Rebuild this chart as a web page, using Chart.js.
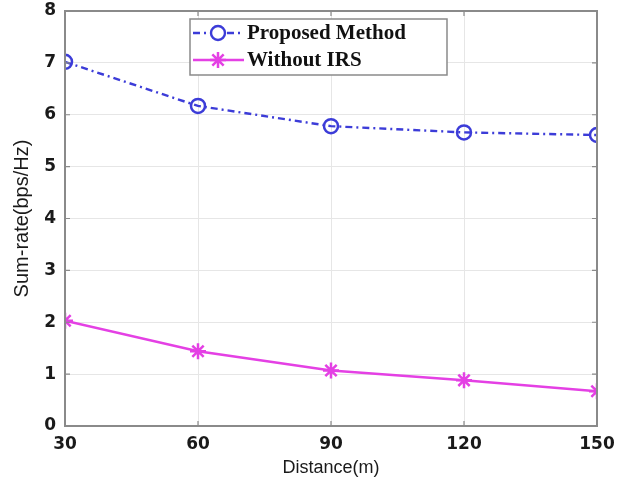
<!DOCTYPE html>
<html>
<head>
<meta charset="utf-8">
<script src="https://cdn.jsdelivr.net/npm/chart.js@4.4.1/dist/chart.umd.min.js"></script>
<style>
  html, body { margin: 0; padding: 0; background: #fff; }
  #wrap { width: 617px; height: 490px; }
</style>
</head>
<body>
<div id="wrap"><canvas id="c" width="617" height="490"></canvas></div>
<script>
// Distance (m) on the x axis
const distances = [30, 60, 90, 120, 150];
// Sum-rate (bps/Hz) for each scheme
const proposedMethod = [7.02, 6.17, 5.78, 5.66, 5.61];
const withoutIRS = [2.03, 1.44, 1.07, 0.88, 0.67];
const seriesNames = ['Proposed Method', 'Without IRS'];
const xTicks = [30, 60, 90, 120, 150];
const yTicks = [0, 1, 2, 3, 4, 5, 6, 7, 8];

const BLUE = '#3c3cd8';
const MAGENTA = '#e440e4';
const FRAME = '#8a8a8a';

// Box frame with inward tick marks on all four sides
const framePlugin = {
  id: 'frame',
  afterDatasetsDraw(chart) {
    const { ctx, chartArea: a, scales } = chart;
    ctx.save();
    ctx.strokeStyle = FRAME;
    ctx.lineWidth = 2;
    ctx.strokeRect(a.left, a.top, a.right - a.left, a.bottom - a.top);
    ctx.lineWidth = 1.2;
    const len = 5;
    xTicks.forEach(v => {
      const x = scales.x.getPixelForValue(v);
      ctx.beginPath();
      ctx.moveTo(x, a.bottom); ctx.lineTo(x, a.bottom - len);
      ctx.moveTo(x, a.top); ctx.lineTo(x, a.top + len);
      ctx.stroke();
    });
    yTicks.forEach(v => {
      const y = scales.y.getPixelForValue(v);
      ctx.beginPath();
      ctx.moveTo(a.left, y); ctx.lineTo(a.left + len, y);
      ctx.moveTo(a.right, y); ctx.lineTo(a.right - len, y);
      ctx.stroke();
    });
    ctx.restore();
  }
};

// Boxed legend placed inside the plot near the top
const legendBoxPlugin = {
  id: 'legendBox',
  afterDraw(chart) {
    const { ctx } = chart;
    const bx = 190, by = 19, bw = 257, bh = 56;
    ctx.save();
    ctx.fillStyle = '#ffffff';
    ctx.fillRect(bx, by, bw, bh);
    ctx.strokeStyle = FRAME;
    ctx.lineWidth = 1.5;
    ctx.strokeRect(bx, by, bw, bh);
    const rows = [by + 14, by + 41];
    chart.data.datasets.forEach((ds, i) => {
      const y = rows[i];
      ctx.strokeStyle = ds.borderColor;
      ctx.lineWidth = ds.borderWidth;
      ctx.setLineDash(ds.borderDash || []);
      ctx.beginPath();
      ctx.moveTo(bx + 3, y); ctx.lineTo(bx + 54, y);
      ctx.stroke();
      ctx.setLineDash([]);
      Chart.helpers.drawPoint(ctx, {
        pointStyle: ds.pointStyle,
        radius: ds.pointRadius,
        borderWidth: ds.pointBorderWidth
      }, bx + 28, y);
      ctx.fillStyle = '#111';
      ctx.font = 'bold 21px "Liberation Serif", "DejaVu Serif", serif';
      ctx.textBaseline = 'middle';
      ctx.textAlign = 'left';
      ctx.fillText(ds.label, bx + 57, y + 1);
    });
    ctx.restore();
  }
};

const tickFont = { family: '"DejaVu Sans", sans-serif', size: 17, weight: 'bold' };
const xTitleFont = { family: '"Liberation Sans", Arial, sans-serif', size: 18, weight: 'normal' };
const yTitleFont = { family: '"Liberation Sans", Arial, sans-serif', size: 20, weight: 'normal' };

new Chart(document.getElementById('c'), {
  type: 'line',
  data: {
    datasets: [
      {
        label: seriesNames[0],
        data: distances.map((d, i) => ({ x: d, y: proposedMethod[i] })),
        borderColor: BLUE,
        backgroundColor: 'rgba(0,0,0,0)',
        borderWidth: 2.4,
        borderDash: [7, 4, 2, 4],
        pointStyle: 'circle',
        pointRadius: 7,
        pointBorderWidth: 2.5,
        pointBorderColor: BLUE,
        pointBackgroundColor: 'rgba(0,0,0,0)',
        tension: 0
      },
      {
        label: seriesNames[1],
        data: distances.map((d, i) => ({ x: d, y: withoutIRS[i] })),
        borderColor: MAGENTA,
        backgroundColor: MAGENTA,
        borderWidth: 2.5,
        pointStyle: 'star',
        pointRadius: 8,
        pointBorderWidth: 2.5,
        pointBorderColor: MAGENTA,
        pointBackgroundColor: MAGENTA,
        tension: 0
      }
    ]
  },
  options: {
    responsive: false,
    animation: false,
    layout: { padding: { left: 10, right: 20, top: 11, bottom: 11 } },
    plugins: {
      legend: { display: false },
      tooltip: { enabled: false }
    },
    scales: {
      x: {
        type: 'linear',
        min: 30, max: 150,
        afterBuildTicks(s) { s.ticks = xTicks.map(v => ({ value: v })); },
        afterFit(s) { s.height = 53; s.paddingLeft = 0; s.paddingRight = 0; },
        grid: { color: '#e6e6e6', lineWidth: 1, drawTicks: false },
        border: { display: false },
        ticks: { color: '#1a1a1a', font: tickFont, padding: 8, maxRotation: 0 },
        title: { display: true, text: 'Distance(m)', color: '#1a1a1a', font: xTitleFont, padding: { top: 4, bottom: 0 } }
      },
      y: {
        min: 0, max: 8,
        afterBuildTicks(s) { s.ticks = yTicks.map(v => ({ value: v })); },
        afterFit(s) { s.width = 55; s.paddingTop = 0; s.paddingBottom = 0; },
        grid: { color: '#e6e6e6', lineWidth: 1, drawTicks: false },
        border: { display: false },
        ticks: { color: '#1a1a1a', font: tickFont, padding: 9 },
        title: { display: true, text: 'Sum-rate(bps/Hz)', color: '#1a1a1a', font: yTitleFont, padding: { top: 0, bottom: 6 } }
      }
    }
  },
  plugins: [framePlugin, legendBoxPlugin]
});
</script>
</body>
</html>
